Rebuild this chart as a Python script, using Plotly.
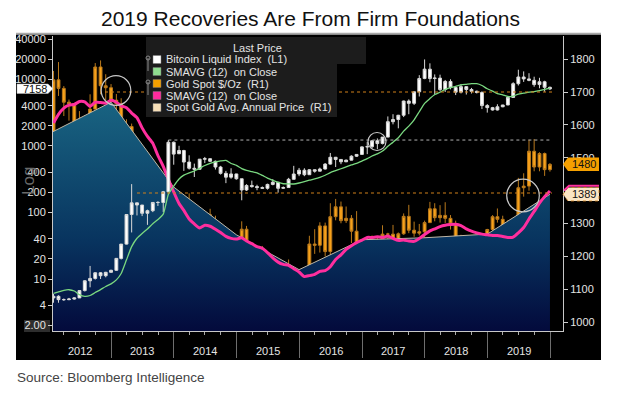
import plotly.graph_objects as go
import pandas as pd

# ------------------------------------------------------------------ data
months = pd.date_range("2012-01-31", periods=96, freq="ME")

btc_open = [5.2, 5.5, 4.9, 4.9, 5.0, 5.2, 6.7, 9.4, 10.2, 12.4, 11.2, 12.6,
            13.5, 20.4, 33.4, 93, 139, 129, 97, 106, 141, 141, 204, 1130,
            760, 850, 570, 460, 445, 630, 640, 585, 480, 386, 338, 378,
            320, 217, 254, 244, 236, 230, 263, 284, 230, 236, 314, 377,
            430, 368, 437, 416, 448, 531, 673, 624, 575, 609, 698, 742,
            963, 970, 1190, 1080, 1350, 2300, 2480, 2875, 4700, 4340, 6470, 10230,
            14150, 10250, 10380, 6990, 9240, 7490, 6390, 7730, 7010, 6590, 6310, 4020,
            3740, 3450, 3850, 4100, 5330, 8560, 10800, 10100, 9620, 8300, 9150, 7550]
btc_high = [6.0, 5.7, 5.1, 5.2, 5.3, 6.8, 9.6, 15.7, 12.6, 12.7, 12.8, 13.8,
            20.6, 33.5, 93, 266, 140, 129, 110, 141, 147, 210, 1220, 1160,
            1000, 870, 720, 540, 630, 680, 650, 600, 500, 420, 460, 380,
            320, 265, 300, 260, 245, 270, 316, 285, 245, 330, 500, 465,
            460, 445, 440, 470, 550, 780, 680, 625, 620, 720, 750, 980,
            1150, 1200, 1290, 1350, 2760, 2980, 2910, 4760, 4980, 6470, 11500, 19800,
            17300, 11800, 11700, 9740, 9960, 7750, 8480, 7760, 7400, 6740, 6580, 4230,
            3840, 4210, 4110, 5600, 9000, 13880, 13100, 12300, 10900, 10500, 9480, 7750]
btc_low = [4.4, 4.4, 4.7, 4.8, 4.9, 5.2, 6.5, 7.5, 9.8, 10.0, 10.6, 12.5,
           13.2, 19.6, 33, 50, 90, 88, 65, 101, 125, 101, 200, 520,
           750, 420, 440, 340, 440, 550, 570, 440, 370, 275, 320, 310,
           152, 210, 235, 215, 225, 220, 255, 198, 225, 235, 310, 350,
           350, 365, 395, 415, 440, 520, 480, 530, 570, 605, 680, 740,
           750, 920, 890, 1050, 1350, 2100, 1830, 2700, 2980, 4100, 5500, 10000,
           9000, 5900, 6600, 6430, 7050, 5780, 6110, 5880, 6100, 6100, 3560, 3150,
           3380, 3390, 3800, 4080, 5320, 8040, 9100, 9320, 7700, 7300, 6500, 6870]
btc_close = [5.5, 4.9, 4.9, 5.0, 5.2, 6.7, 9.4, 10.2, 12.4, 11.2, 12.6, 13.5,
             20.4, 33.4, 93, 139, 129, 97, 106, 141, 141, 204, 1130, 750,
             850, 570, 460, 445, 630, 640, 585, 480, 386, 338, 378, 320,
             217, 254, 244, 236, 230, 263, 284, 230, 236, 314, 377, 430,
             368, 437, 416, 448, 531, 673, 624, 575, 609, 698, 742, 963,
             970, 1190, 1080, 1350, 2300, 2480, 2875, 4700, 4340, 6470, 10230, 14150,
             10250, 10380, 6990, 9240, 7490, 6390, 7730, 7010, 6590, 6310, 4020, 3740,
             3450, 3850, 4100, 5330, 8560, 10800, 10100, 9620, 8300, 9150, 7550, 7158]
btc_sma12 = [6.09, 6.43, 6.77, 6.9, 6.6, 5.82, 5.49, 5.65, 6.26, 6.93, 7.73, 8.46,
             9.7, 12.1, 19.4, 30.6, 40.9, 48.4, 56.5, 67.4, 78.1, 94.2, 187.3, 248.7,
             317.8, 362.5, 393.1, 418.6, 460.3, 505.6, 545.5, 573.8, 594.2, 605.3, 542.7, 506.8,
             454.1, 427.8, 409.8, 392.3, 359, 327.6, 302.5, 281.7, 269.2, 267.2, 267.1, 276.3,
             288.8, 304.1, 318.4, 336.1, 361.2, 395.3, 423.7, 452.4, 483.5, 515.5, 545.9, 590.3,
             640.5, 703.3, 758.6, 833.8, 981.2, 1131.8, 1319.3, 1663.1, 1974, 2455, 3245.7, 4344.6,
             5117.9, 5883.8, 6376.3, 7033.8, 7466.3, 7792.1, 8196.7, 8389.2, 8576.7, 8563.3, 8045.8, 7178.3,
             6611.7, 6067.5, 5826.7, 5500.8, 5590, 5957.5, 6155, 6372.5, 6515, 6751.7, 7045.8, 7330.7]

gold_open = [1565, 1737, 1711, 1669, 1664, 1561, 1604, 1622, 1648, 1776, 1719, 1713,
             1675, 1664, 1578, 1595, 1472, 1393, 1234, 1313, 1396, 1327, 1323, 1253,
             1202, 1240, 1326, 1284, 1296, 1250, 1327, 1282, 1287, 1208, 1171, 1182,
             1184, 1283, 1213, 1183, 1184, 1190, 1172, 1095, 1135, 1115, 1142, 1065,
             1061, 1118, 1238, 1234, 1293, 1215, 1321, 1351, 1309, 1316, 1277, 1173,
             1152, 1211, 1249, 1249, 1268, 1268, 1242, 1269, 1322, 1280, 1271, 1275,
             1303, 1345, 1318, 1325, 1316, 1299, 1253, 1224, 1201, 1192, 1215, 1222,
             1282, 1321, 1313, 1292, 1284, 1305, 1409, 1414, 1520, 1472, 1513, 1464]
gold_high = [1764, 1791, 1718, 1677, 1666, 1642, 1630, 1693, 1788, 1796, 1754, 1724,
             1694, 1681, 1617, 1604, 1487, 1424, 1348, 1434, 1425, 1361, 1362, 1262,
             1270, 1345, 1392, 1331, 1315, 1332, 1345, 1324, 1292, 1255, 1210, 1238,
             1307, 1293, 1224, 1224, 1232, 1205, 1175, 1170, 1157, 1191, 1142, 1088,
             1125, 1263, 1283, 1304, 1303, 1362, 1375, 1367, 1352, 1326, 1338, 1180,
             1220, 1264, 1262, 1295, 1272, 1296, 1273, 1331, 1357, 1306, 1299, 1309,
             1366, 1362, 1356, 1365, 1326, 1309, 1266, 1226, 1214, 1243, 1237, 1284,
             1326, 1346, 1324, 1310, 1306, 1439, 1453, 1555, 1557, 1517, 1516, 1484]
gold_low = [1563, 1688, 1627, 1613, 1527, 1540, 1564, 1585, 1648, 1693, 1673, 1636,
            1626, 1555, 1565, 1321, 1338, 1180, 1207, 1271, 1291, 1251, 1225, 1187,
            1182, 1237, 1277, 1268, 1240, 1240, 1281, 1272, 1206, 1161, 1131, 1170,
            1167, 1197, 1142, 1170, 1170, 1162, 1077, 1080, 1098, 1110, 1053, 1046,
            1061, 1107, 1208, 1212, 1200, 1200, 1310, 1301, 1302, 1241, 1171, 1123,
            1147, 1200, 1195, 1241, 1214, 1237, 1205, 1266, 1271, 1260, 1264, 1236,
            1302, 1307, 1303, 1302, 1282, 1250, 1211, 1160, 1180, 1182, 1196, 1221,
            1276, 1303, 1281, 1266, 1267, 1301, 1382, 1400, 1459, 1459, 1445, 1458]
gold_close = [1737, 1711, 1669, 1664, 1561, 1604, 1622, 1648, 1776, 1719, 1713, 1675,
              1664, 1578, 1595, 1472, 1393, 1234, 1313, 1396, 1327, 1323, 1253, 1202,
              1240, 1326, 1284, 1296, 1250, 1327, 1282, 1287, 1208, 1171, 1182, 1184,
              1283, 1213, 1183, 1184, 1190, 1172, 1095, 1135, 1115, 1142, 1065, 1061,
              1118, 1238, 1234, 1293, 1215, 1321, 1351, 1309, 1316, 1277, 1173, 1152,
              1211, 1249, 1249, 1268, 1268, 1242, 1269, 1322, 1280, 1271, 1275, 1303,
              1345, 1318, 1325, 1316, 1299, 1253, 1224, 1201, 1192, 1215, 1222, 1282,
              1321, 1313, 1292, 1284, 1305, 1409, 1414, 1520, 1472, 1513, 1464, 1480]
gold_sma12 = [1606, 1632, 1651, 1660, 1662, 1671, 1670, 1656, 1669, 1668, 1666, 1675,
              1669, 1658, 1652, 1636, 1622, 1591, 1565, 1544, 1507, 1474, 1435, 1396,
              1361, 1340, 1314, 1299, 1287, 1295, 1292, 1283, 1273, 1261, 1255, 1253,
              1257, 1247, 1239, 1230, 1225, 1212, 1196, 1183, 1176, 1173, 1163, 1153,
              1139, 1142, 1146, 1155, 1157, 1169, 1191, 1205, 1222, 1233, 1242, 1250,
              1258, 1258, 1260, 1258, 1262, 1255, 1249, 1250, 1247, 1246, 1255, 1267,
              1278, 1284, 1291, 1295, 1297, 1298, 1294, 1284, 1277, 1272, 1268, 1266,
              1264, 1264, 1261, 1258, 1259, 1272, 1288, 1314, 1337, 1362, 1382, 1399]

annual_dates = ["2011-12-31", "2012-12-31", "2013-12-31", "2014-12-31", "2015-12-31",
                "2016-12-31", "2017-12-31", "2018-12-31", "2019-12-31"]
annual_avg = [1572, 1669, 1411, 1266, 1160, 1251, 1257, 1268, 1389]

btc_last = 7158
gold_last = 1480
annual_last = 1389

left_tickvals = [2, 4, 10, 20, 40, 100, 200, 400, 1000, 2000, 4000, 10000, 20000, 40000]
left_ticktext = ["2.00", "4", "10", "20", "40", "100", "200", "400", "1000", "2000",
                 "4000", "10000", "20000", "40000"]
right_tickvals = [1000, 1100, 1200, 1300, 1400, 1500, 1600, 1700, 1800]
right_ticktext = ["1000", "1100", "1200", "1300", "", "1500", "1600", "1700", "1800"]
year_labels = ["2012", "2013", "2014", "2015", "2016", "2017", "2018", "2019"]

NB = "\u00a0"
legend_header = "Last Price"
legend_labels = [f"Bitcoin Liquid Index {NB}(L1)", f"SMAVG (12) {NB}on Close",
                 f"Gold Spot $/Oz {NB}(R1)", f"SMAVG (12) {NB}on Close",
                 f"Spot Gold Avg. Annual Price {NB}(R1)"]

# ------------------------------------------------------------------ style
W, H = 624, 398
PL, PR, PT, PB = 53, 563, 36, 331
FONT = "Liberation Sans"
GOLD_FILL, GOLD_LINE = "#f8a21a", "#b9791c"
PINK, GREEN = "#ff2e9e", "#7ad880"
TXT = "#e4e4e4"


def px(x):
    return (x - PL) / (PR - PL)


def py(y):
    return (PB - y) / (PB - PT)


fig = go.Figure()

fig.add_trace(go.Scatter(
    x=annual_dates, y=annual_avg, yaxis="y", mode="lines",
    line=dict(color="#bfb7a6", width=1), fill="tozeroy",
    fillgradient=dict(type="vertical", start=973, stop=1700,
                      colorscale=[[0, "#030a3c"], [0.38, "#08345f"], [1, "#1a6784"]]),
    hoverinfo="skip", showlegend=False))

fig.add_trace(go.Candlestick(
    x=months, open=gold_open, high=gold_high, low=gold_low, close=gold_close, yaxis="y",
    increasing=dict(line=dict(color=GOLD_LINE, width=1), fillcolor=GOLD_FILL),
    decreasing=dict(line=dict(color=GOLD_LINE, width=1), fillcolor=GOLD_FILL),
    showlegend=False))

fig.add_trace(go.Scatter(
    x=months, y=gold_sma12, yaxis="y", mode="lines",
    line=dict(color=PINK, width=3, shape="spline", smoothing=0.5), showlegend=False))

fig.add_trace(go.Candlestick(
    x=months, open=btc_open, high=btc_high, low=btc_low, close=btc_close, yaxis="y2",
    increasing=dict(line=dict(color="#d8d8d8", width=1), fillcolor="#ffffff"),
    decreasing=dict(line=dict(color="#d8d8d8", width=1), fillcolor="#ffffff"),
    showlegend=False))

fig.add_trace(go.Scatter(
    x=months, y=btc_sma12, yaxis="y2", mode="lines",
    line=dict(color=GREEN, width=1.3, shape="spline", smoothing=0.5), showlegend=False))

shapes = []
# black chart panel and title rule
shapes.append(dict(type="rect", xref="paper", yref="paper", x0=px(16), x1=px(601),
                   y0=py(360), y1=py(34.5), fillcolor="black", line=dict(width=0), layer="below"))
shapes.append(dict(type="line", xref="paper", yref="paper", x0=px(16), x1=px(601),
                   y0=py(33.5), y1=py(33.5), line=dict(color="#a8a8a8", width=1.5)))
shapes.append(dict(type="rect", xref="paper", yref="paper", x0=px(24), x1=px(50),
                   y0=py(332), y1=py(320), fillcolor="#2e2e2e", line=dict(width=0), layer="below"))

# reference dotted lines (gold axis)
shapes.append(dict(type="line", xref="x", yref="y", x0="2012-11-26", x1="2020-01-12",
                   y0=1700, y1=1700, line=dict(color="#d0801a", width=1, dash="dot")))
shapes.append(dict(type="line", xref="x", yref="y", x0="2013-11-30", x1="2020-01-12",
                   y0=1554, y1=1554, line=dict(color="#b0b0b0", width=1, dash="dot")))
shapes.append(dict(type="line", xref="x", yref="y", x0="2013-05-31", x1="2020-01-12",
                   y0=1393, y1=1393, line=dict(color="#d0801a", width=1, dash="dot")))

# circles
for cx, cy, r in [(116, 90.5, 14.8), (377, 141.5, 9), (523, 195.5, 16.3)]:
    shapes.append(dict(type="circle", xref="paper", yref="paper",
                       x0=px(cx - r), x1=px(cx + r), y0=py(cy + r), y1=py(cy - r),
                       line=dict(color="#c8c8c8", width=1.2), layer="above"))

# legend panel
shapes.append(dict(type="rect", xref="paper", yref="paper", x0=px(146), x1=px(366),
                   y0=py(64), y1=py(37), fillcolor="#1c1c1c", line=dict(width=0), layer="above"))
shapes.append(dict(type="rect", xref="paper", yref="paper", x0=px(146), x1=px(337),
                   y0=py(117), y1=py(64), fillcolor="#1c1c1c", line=dict(width=0), layer="above"))
legend_colors = ["#ffffff", "#8fdc8f", "#f5a000", "#ff2a9d", "#f7dfb8"]
row_y = [59.5, 71.5, 83.5, 95.5, 107.5]
for c, yy in zip(legend_colors, row_y):
    shapes.append(dict(type="rect", xref="paper", yref="paper", x0=px(153), x1=px(161),
                       y0=py(yy + 4), y1=py(yy - 4), fillcolor=c,
                       line=dict(color="#777", width=0.5), layer="above"))
for y_a, y_b in [(58, 71), (82, 95)]:
    shapes.append(dict(type="line", xref="paper", yref="paper", x0=px(148), x1=px(148),
                       y0=py(y_a), y1=py(y_b), line=dict(color="#8a8a8a", width=1), layer="above"))
    shapes.append(dict(type="circle", xref="paper", yref="paper", x0=px(146), x1=px(150),
                       y0=py(y_a + 2), y1=py(y_a - 2), line=dict(color="#8a8a8a", width=1),
                       layer="above"))


def tag_path(pts):
    return "M " + " L ".join(f"{px(a):.5f},{py(b):.5f}" for a, b in pts) + " Z"


shapes.append(dict(type="path", xref="paper", yref="paper",
                   path=tag_path([(17, 84), (48, 84), (53, 88.7), (48, 93.5), (17, 93.5)]),
                   fillcolor="white", line=dict(color="#bbbbbb", width=0.5), layer="above"))
shapes.append(dict(type="path", xref="paper", yref="paper",
                   path=tag_path([(563, 164.3), (568, 157.5), (599, 157.5), (599, 171), (568, 171)]),
                   fillcolor="#f5a000", line=dict(width=0), layer="above"))
shapes.append(dict(type="path", xref="paper", yref="paper",
                   path=tag_path([(563, 194.3), (568, 187.5), (599, 187.5), (599, 201), (568, 201)]),
                   fillcolor="#fbe6c4", line=dict(color="#d0801a", width=0.8, dash="dot"),
                   layer="above"))
shapes.append(dict(type="path", xref="paper", yref="paper",
                   path=f"M {px(564):.5f},{py(190.5):.5f} L {px(569):.5f},{py(185.7):.5f} L {px(599):.5f},{py(185.7):.5f}",
                   line=dict(color=PINK, width=2), layer="above"))

annotations = []
annotations.append(dict(text="2019 Recoveries Are From Firm Foundations", xref="paper", yref="paper",
                        x=px(310), y=py(18), xanchor="center", yanchor="middle", showarrow=False,
                        font=dict(size=21, color="#111111", family=FONT)))
annotations.append(dict(text="Source: Bloomberg Intelligence", xref="paper", yref="paper",
                        x=px(15), y=py(377), xanchor="left", yanchor="middle", showarrow=False,
                        font=dict(size=13.5, color="#444444", family=FONT)))
for i, yl in enumerate(year_labels):
    annotations.append(dict(text=yl, xref="x", yref="paper", x=f"{2012 + i}-07-02", y=py(350.5),
                            xanchor="center", yanchor="middle", showarrow=False,
                            font=dict(size=11, color=TXT, family=FONT)))
annotations.append(dict(text="Log", xref="paper", yref="paper", x=px(28), y=py(181), textangle=-90,
                        xanchor="center", yanchor="middle", showarrow=False,
                        font=dict(size=17, color="#6a6a6a", family=FONT)))
annotations.append(dict(text=legend_header, xref="paper", yref="paper", x=px(257), y=py(47.5),
                        xanchor="center", yanchor="middle", showarrow=False,
                        font=dict(size=11, color=TXT, family=FONT)))
for lab, yy in zip(legend_labels, row_y):
    annotations.append(dict(text=lab, xref="paper", yref="paper", x=px(164), y=py(yy),
                            xanchor="left", yanchor="middle", showarrow=False,
                            font=dict(size=11, color=TXT, family=FONT)))
annotations.append(dict(text=f"{btc_last}", xref="paper", yref="paper", x=px(35), y=py(88.8),
                        xanchor="center", yanchor="middle", showarrow=False,
                        font=dict(size=11, color="#111111", family=FONT)))
annotations.append(dict(text=f"{gold_last}", xref="paper", yref="paper", x=px(583.5), y=py(164.3),
                        xanchor="center", yanchor="middle", showarrow=False,
                        font=dict(size=11, color="#111111", family=FONT)))
annotations.append(dict(text=f"{annual_last}", xref="paper", yref="paper", x=px(583.5), y=py(194.3),
                        xanchor="center", yanchor="middle", showarrow=False,
                        font=dict(size=11, color="#111111", family=FONT)))

fig.update_layout(
    width=W, height=H,
    margin=dict(l=PL, r=W - PR, t=PT, b=H - PB),
    paper_bgcolor="white", plot_bgcolor="black",
    font=dict(family=FONT),
    showlegend=False, boxgap=0.15, hovermode=False,
    shapes=shapes, annotations=annotations,
    xaxis=dict(type="date", range=["2012-01-28", "2020-03-16"], rangeslider=dict(visible=False),
               tickmode="linear", tick0="2012-01-01", dtick="M12", ticks="outside", ticklen=26,
               tickcolor="#6e6e6e", tickwidth=1, showticklabels=False, showgrid=False,
               zeroline=False, showline=True, linecolor="#c8c8c8", linewidth=1,
               minor=dict(dtick="M3", ticks="outside", ticklen=3, tickcolor="#aaaaaa", showgrid=False)),
    yaxis=dict(side="right", range=[973.6, 1870.2], tickvals=right_tickvals, ticktext=right_ticktext,
               ticks="outside", ticklen=4, tickcolor="#cccccc", showgrid=False, zeroline=False,
               showline=True, linecolor="#c8c8c8", tickfont=dict(size=11, color=TXT, family=FONT)),
    yaxis2=dict(type="log", side="left", overlaying="y", range=[0.2192, 4.6486],
                tickvals=left_tickvals, ticktext=left_ticktext, ticks="outside", ticklen=4,
                tickcolor="#cccccc", showgrid=False, zeroline=False, showline=True,
                linecolor="#c8c8c8", tickfont=dict(size=11, color=TXT, family=FONT)),
)

# remove the default page margin so the 624x398 figure fills the window exactly
fig.write_html("out.html", config={"displayModeBar": False, "staticPlot": True},
               post_script="document.body.style.margin='0px';")
